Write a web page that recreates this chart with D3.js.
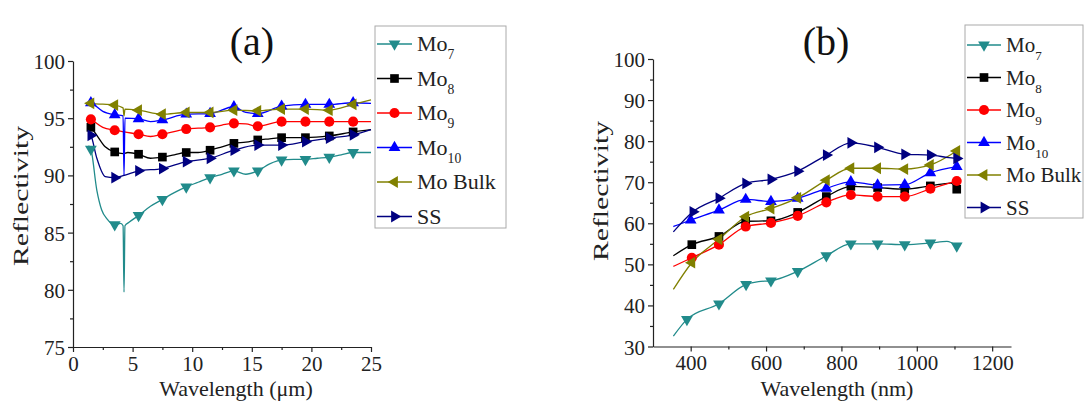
<!DOCTYPE html>
<html>
<head>
<meta charset="utf-8">
<script src="https://cdn.jsdelivr.net/npm/d3@7"></script>
<style>
  body { margin: 0; background: #fff; }
  svg, svg text { font-family: "Liberation Serif", "Times New Roman", serif; }
  .domain, .tick line { stroke: #222; stroke-width: 1.2; }
  .tick text { font-size: 21px; fill: #222; font-family: "Liberation Serif", "Times New Roman", serif; }
</style>
</head>
<body>
<svg id="chart"></svg>
<script>
// series names + legend subscripts
let seriesNames = ['Mo', 'Mo', 'Mo', 'Mo', 'Mo Bulk', 'SS']
let seriesSubs = ['7', '8', '9', '10', '', '']

// panel (a): wavelength (um) vs reflectivity, points with a marker
let mo7A = [[1.5,92.3],[3.5,85.7],[5.5,86.5],[7.5,87.9],[9.5,89.0],[11.5,89.8],[13.5,90.4],[15.5,90.4],[17.5,91.35],[19.5,91.4],[21.5,91.6],[23.5,92.0]]
let mo8A = [[1.5,94.2],[3.5,92.05],[5.5,91.85],[7.5,91.6],[9.5,92.0],[11.5,92.2],[13.5,92.8],[15.5,93.1],[17.5,93.3],[19.5,93.3],[21.5,93.45],[23.5,93.8]]
let mo9A = [[1.5,94.9],[3.5,93.95],[5.5,93.6],[7.5,93.6],[9.5,94.05],[11.5,94.2],[13.5,94.55],[15.5,94.3],[17.5,94.7],[19.5,94.7],[21.5,94.7],[23.5,94.7]]
let mo10A = [[1.5,96.35],[3.5,95.3],[5.5,94.95],[7.5,94.85],[9.5,95.35],[11.5,95.4],[13.5,96.0],[15.5,95.4],[17.5,96.05],[19.5,96.2],[21.5,96.2],[23.5,96.35]]
let bulkA = [[1.5,96.3],[3.5,96.15],[5.5,95.7],[7.5,95.35],[9.5,95.5],[11.5,95.5],[13.5,95.7],[15.5,95.65],[17.5,95.8],[19.5,95.8],[21.5,95.7],[23.5,96.2]]
let ssA = [[1.5,93.5],[3.5,89.8],[5.5,90.4],[7.5,90.6],[9.5,91.2],[11.5,91.5],[13.5,92.2],[15.5,92.65],[17.5,92.65],[19.5,92.95],[21.5,93.25],[23.5,93.55]]

// panel (a): extra line points between markers (no marker drawn)
let mo7AExtra = [[1.3,92.6],[2.0,88.7],[2.4,87.0],[2.85,86.2],[4.0,85.8],[4.2,85.6],[4.28,79.8],[4.36,85.6],[4.7,85.9],[6.5,87.3],[8.5,88.5],[10.5,89.4],[12.5,90.1],[14.5,90.1],[16.5,91.0],[18.5,91.4],[20.5,91.5],[22.5,91.8],[25,92.0]]
let mo8AExtra = [[1.3,94.4],[2.0,93.5],[2.7,92.5],[4.2,91.9],[4.6,92.0],[6.5,91.5],[8.5,91.8],[10.5,92.0],[12.5,92.5],[14.5,92.9],[16.5,93.2],[25,94.0]]
let mo9AExtra = [[1.3,95.0],[2.5,94.2],[4.3,93.8],[6.5,93.4],[12.5,94.4],[14.5,94.5],[25,94.7]]
let mo10AExtra = [[1.3,96.4],[2.5,95.6],[4.2,95.2],[4.28,90.0],[4.36,95.0],[6.5,94.7],[14.5,95.5],[25,96.3]]
let bulkAExtra = [[1.3,96.4],[4.2,95.9],[4.28,95.2],[4.36,95.8],[25,96.6]]
let ssAExtra = [[1.3,93.7],[2.0,91.5],[2.7,89.9],[4.3,90.0],[25,94.0]]

// panel (b): wavelength (nm) vs reflectivity
let mo7B = [[390,36.6],[475,40.4],[547,45.1],[613,46.0],[684,48.3],[760,52.1],[825,55.0],[896,55.0],[968,54.8],[1036,55.2],[1106,54.5]]
let mo8B = [[403,54.8],[475,56.8],[546,60.5],[613,60.6],[684,62.65],[760,66.5],[825,69.0],[896,68.7],[968,68.3],[1036,69.1],[1106,68.3]]
let mo9B = [[403,51.6],[475,54.8],[546,59.2],[613,60.1],[684,61.8],[760,65.1],[825,66.9],[896,66.5],[968,66.5],[1036,68.4],[1106,70.3]]
let mo10B = [[400,60.8],[475,63.2],[546,65.8],[613,65.3],[684,66.1],[760,68.5],[825,70.1],[896,69.3],[968,69.4],[1036,72.3],[1106,73.8]]
let bulkB = [[403,50.4],[475,56.1],[546,61.6],[613,63.6],[684,66.2],[760,70.5],[825,73.4],[896,73.4],[968,73.2],[1036,74.2],[1106,77.6]]
let ssB = [[406,62.8],[475,66.1],[546,69.7],[613,70.7],[684,72.7],[760,76.6],[825,79.6],[896,78.5],[968,76.8],[1036,76.6],[1106,75.8]]

let mo7BExtra = [[354,32.5],[580,45.8],[1080,55.6]]
let mo8BExtra = [[354,52.1],[1090,69.8]]
let mo9BExtra = [[354,49.5]]
let mo10BExtra = [[354,59.2]]
let bulkBExtra = [[354,43.9]]
let ssBExtra = [[354,57.9],[1085,76.0]]

// axis ticks
let xTicksA = [0, 5, 10, 15, 20, 25]
let xMinorA = [2.5, 7.5, 12.5, 17.5, 22.5]
let yTicksA = [75, 80, 85, 90, 95, 100]
let yMinorA = [77.5, 82.5, 87.5, 92.5, 97.5]
let xTicksB = [400, 600, 800, 1000, 1200]
let xMinorB = [500, 700, 900, 1100]
let yTicksB = [30, 40, 50, 60, 70, 80, 90, 100]
let yMinorB = [35, 45, 55, 65, 75, 85, 95]

let width = 1084
let height = 404

let colors = ['#218b8b', '#000000', '#ff0000', '#0000ff', '#808000', '#000080']
let symbols = [
  {type: d3.symbolTriangle, rot: 180, size: 60},
  {type: d3.symbolSquare, rot: 0, size: 75},
  {type: d3.symbolCircle, rot: 0, size: 80},
  {type: d3.symbolTriangle, rot: 0, size: 60},
  {type: d3.symbolTriangle, rot: -90, size: 60},
  {type: d3.symbolTriangle, rot: 90, size: 60}
]

let svg = d3.select('#chart').attr('width', width).attr('height', height)

let merge = (a, b) => a.concat(b).sort((p, q) => p[0] - q[0])

let drawPanel = (opt) => {
  let x = d3.scaleLinear().domain(opt.xDomain).range([opt.left, opt.right])
  let y = d3.scaleLinear().domain(opt.yDomain).range([opt.bottom, opt.top])

  // minor ticks
  svg.append('g')
    .attr('transform', `translate(0,${opt.bottom})`)
    .call(d3.axisBottom(x).tickValues(opt.xMinor).tickSize(3).tickFormat(''))
    .select('.domain').remove()
  svg.append('g')
    .attr('transform', `translate(${opt.left},0)`)
    .call(d3.axisLeft(y).tickValues(opt.yMinor).tickSize(3).tickFormat(''))
    .select('.domain').remove()

  // major axes
  svg.append('g')
    .attr('transform', `translate(0,${opt.bottom})`)
    .call(d3.axisBottom(x).tickValues(opt.xTicks).tickSize(5).tickSizeOuter(0).tickPadding(4).tickFormat(d3.format('d')))
  svg.append('g')
    .attr('transform', `translate(${opt.left},0)`)
    .call(d3.axisLeft(y).tickValues(opt.yTicks).tickSize(5).tickSizeOuter(0).tickPadding(3).tickFormat(d3.format('d')))
    .selectAll('.tick text').attr('dy', '0.36em')

  let line = d3.line()
    .x(d => x(d[0]))
    .y(d => y(d[1]))
    .curve(opt.curve)

  opt.series.forEach((s, i) => {
    svg.append('path')
      .datum(merge(s, opt.extra[i]))
      .attr('d', line)
      .attr('fill', 'none')
      .attr('stroke', colors[i])
      .attr('stroke-width', 1.3)
  })
  opt.series.forEach((s, i) => {
    svg.append('g').selectAll('path')
      .data(s)
      .enter()
      .append('path')
      .attr('d', d3.symbol().type(symbols[i].type).size(symbols[i].size))
      .attr('transform', d => `translate(${x(d[0])},${y(d[1])}) rotate(${symbols[i].rot})`)
      .attr('fill', colors[i])
  })

  // axis titles
  svg.append('text')
    .attr('x', opt.xLabelX)
    .attr('y', 396)
    .attr('text-anchor', 'middle')
    .style('font-size', '22px')
    .attr('fill', '#222')
    .text(opt.xLabel)

  svg.append('text')
    .attr('transform', `translate(${opt.yLabelX},${opt.yLabelY}) rotate(-90)`)
    .attr('text-anchor', 'middle')
    .attr('textLength', 140)
    .attr('lengthAdjust', 'spacingAndGlyphs')
    .style('font-size', '22px')
    .attr('fill', '#222')
    .text('Reflectivity')

  // panel letter
  svg.append('text')
    .attr('x', opt.titleX)
    .attr('y', 55)
    .attr('text-anchor', 'middle')
    .style('font-size', '40px')
    .attr('fill', '#111')
    .text(opt.title)

  // legend
  let lg = svg.append('g')
  lg.append('rect')
    .attr('x', opt.legend.x).attr('y', opt.legend.y)
    .attr('width', opt.legend.w).attr('height', opt.legend.h)
    .attr('fill', '#fff').attr('stroke', '#aaa').attr('stroke-width', 1)

  let items = lg.selectAll('.legend-item')
    .data(seriesNames)
    .enter()
    .append('g')
    .attr('class', 'legend-item')
    .attr('transform', (d, i) => `translate(${opt.legend.x},${opt.legend.first + i * opt.legend.step})`)

  items.append('line')
    .attr('x1', 2).attr('x2', opt.legend.lineLen)
    .attr('stroke', (d, i) => colors[i]).attr('stroke-width', 1.3)
  items.append('path')
    .attr('d', (d, i) => d3.symbol().type(symbols[i].type).size(symbols[i].size)())
    .attr('transform', (d, i) => `translate(${opt.legend.lineLen / 2 + 1},0) rotate(${symbols[i].rot})`)
    .attr('fill', (d, i) => colors[i])

  let txt = items.append('text')
    .attr('x', opt.legend.lineLen + 5)
    .attr('y', 7)
    .style('font-size', opt.legend.font + 'px')
    .attr('fill', '#222')
  txt.append('tspan').text(d => d)
  txt.append('tspan')
    .attr('dy', 8)
    .style('font-size', (opt.legend.font * 0.62) + 'px')
    .text((d, i) => seriesSubs[i])
}

drawPanel({
  xDomain: [0, 25], yDomain: [75, 100],
  left: 73, right: 371, top: 61, bottom: 347,
  xTicks: xTicksA, xMinor: xMinorA, yTicks: yTicksA, yMinor: yMinorA,
  series: [mo7A, mo8A, mo9A, mo10A, bulkA, ssA],
  extra: [mo7AExtra, mo8AExtra, mo9AExtra, mo10AExtra, bulkAExtra, ssAExtra],
  curve: d3.curveMonotoneX,
  xLabel: 'Wavelength (\u03bcm)', xLabelX: 236,
  yLabelX: 28, yLabelY: 196,
  title: '(a)', titleX: 252,
  legend: {x: 375, y: 26, w: 131, h: 202, first: 44, step: 34.5, lineLen: 37, font: 22}
})

drawPanel({
  xDomain: [300, 1250], yDomain: [30, 100],
  left: 653, right: 1011, top: 59, bottom: 346.5,
  xTicks: xTicksB, xMinor: xMinorB, yTicks: yTicksB, yMinor: yMinorB,
  series: [mo7B, mo8B, mo9B, mo10B, bulkB, ssB],
  extra: [mo7BExtra, mo8BExtra, mo9BExtra, mo10BExtra, bulkBExtra, ssBExtra],
  curve: d3.curveMonotoneX,
  xLabel: 'Wavelength (nm)', xLabelX: 837,
  yLabelX: 608, yLabelY: 191,
  title: '(b)', titleX: 826,
  legend: {x: 965, y: 25, w: 118, h: 193, first: 45, step: 32.5, lineLen: 36, font: 21}
})
</script>
</body>
</html>
